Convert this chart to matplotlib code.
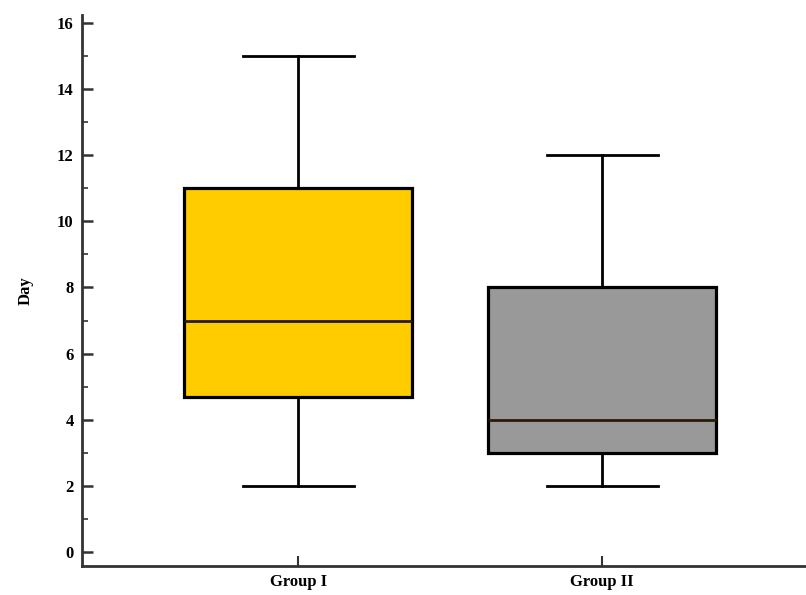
import matplotlib.pyplot as plt
from matplotlib.ticker import MultipleLocator

# Box plot summaries
groups = ["Group I", "Group II"]
whisker_low = [2, 2]
q1 = [4.7, 3]
median = [7, 4]
q3 = [11, 8]
whisker_high = [15, 12]
colors = ["#FFCC00", "#999999"]

plt.rcParams["font.family"] = ["Liberation Serif", "DejaVu Serif"]
plt.rcParams["font.weight"] = "bold"

fig = plt.figure(figsize=(8.06, 5.95), dpi=100)
ax = fig.add_axes([0.1017, 0.0487, 0.8983, 0.9263])

stats = []
for i, g in enumerate(groups):
    stats.append({
        "label": g,
        "whislo": whisker_low[i],
        "q1": q1[i],
        "med": median[i],
        "q3": q3[i],
        "whishi": whisker_high[i],
        "fliers": [],
    })

bp = ax.bxp(stats, positions=[1, 2], widths=0.75, patch_artist=True,
            showfliers=False,
            boxprops=dict(linewidth=2.3, edgecolor="black"),
            medianprops=dict(linewidth=2, color="#2a1a08"),
            whiskerprops=dict(linewidth=2, color="black"),
            capprops=dict(linewidth=2, color="black"),
            capwidths=0.365)
for patch, c in zip(bp["boxes"], colors):
    patch.set_facecolor(c)

ax.set_xlim(0.289, 2.67)
ax.set_ylim(-0.42, 16.24)
ax.yaxis.set_major_locator(MultipleLocator(2))
ax.yaxis.set_minor_locator(MultipleLocator(1))

ax.spines["top"].set_visible(False)
ax.spines["right"].set_visible(False)
ax.spines["left"].set_linewidth(2)
ax.spines["bottom"].set_linewidth(2)
ax.spines["left"].set_color("#333333")
ax.spines["bottom"].set_color("#333333")

ax.tick_params(axis="y", which="major", direction="in", length=8, width=1.8,
               labelsize=12, pad=6, color="#333333")
ax.tick_params(axis="y", which="minor", direction="in", length=4, width=1.2,
               color="#333333")
ax.tick_params(axis="x", which="major", direction="in", length=7, width=1.5,
               labelsize=12, pad=6, color="#333333")

ax.set_ylabel("Day", fontsize=12, fontweight="bold", labelpad=17)

fig.savefig("out.png", dpi=100)
